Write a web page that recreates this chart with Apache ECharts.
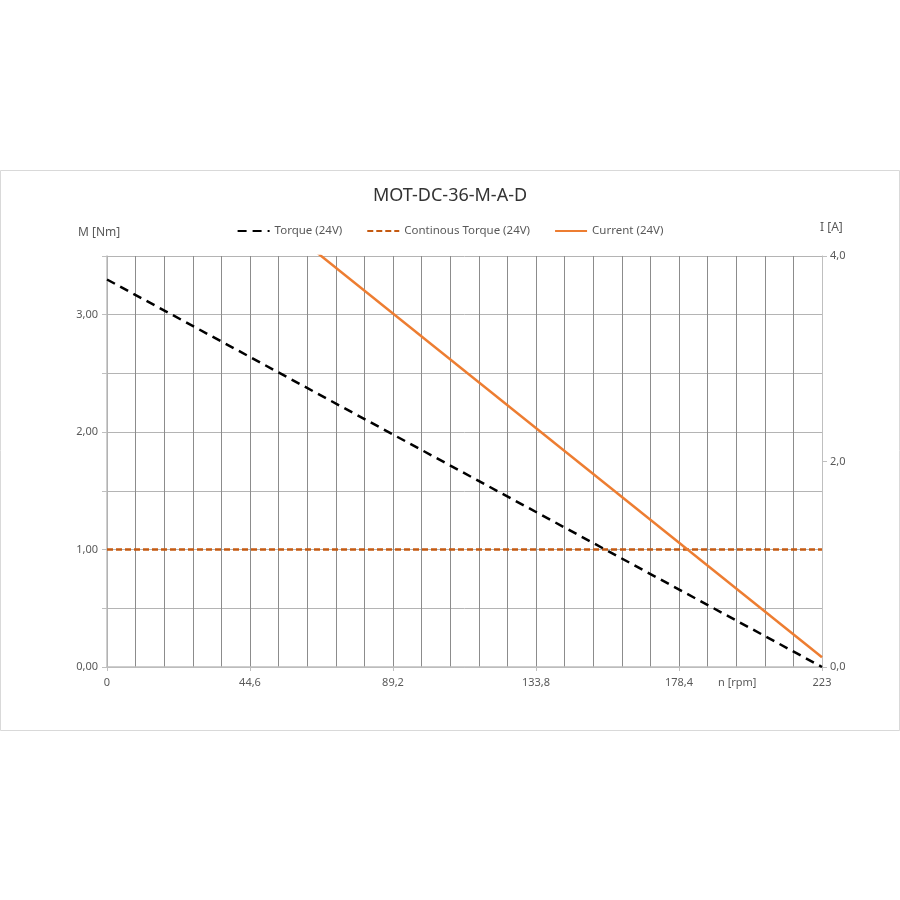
<!DOCTYPE html>
<html>
<head>
<meta charset="utf-8">
<script src="https://cdn.jsdelivr.net/npm/echarts@6/dist/echarts.min.js"></script>
<style>html,body{margin:0;padding:0;background:#fff;}#c{width:900px;height:900px;}</style>
</head>
<body>
<div id="c"></div>
<script>
const titleText = 'MOT-DC-36-M-A-D';
const seriesNames = ['Torque (24V)', 'Continous Torque (24V)', 'Current (24V)'];
const rpm = [0, 223];
const torque = [3.3, 0];
const contTorque = [1.0, 1.0];
const current = [5.67, 0.095];
const xTicks = [0, 44.6, 89.2, 133.8, 178.4, 223];
const leftTicks = [0, 1, 2, 3];
const rightTicks = [0, 2, 4];

const fmtComma = (v, d) => v.toFixed(d).replace('.', ',');
const font = 'Noto Sans';
const grey = '#595959';

const chart = echarts.init(document.getElementById('c'));
chart.setOption({
  animation: false,
  backgroundColor: '#fff',
  textStyle: { fontFamily: font },
  title: {
    text: titleText, left: 'center', top: 182,
    textStyle: { fontFamily: font, fontSize: 18, fontWeight: 'normal', color: '#333' }
  },
  legend: {
    top: 220, left: 'center', itemWidth: 32, itemHeight: 10, itemGap: 24,
    itemStyle: { opacity: 0 },
    textStyle: { fontFamily: font, fontSize: 11.5, color: grey },
    data: seriesNames
  },
  graphic: [
    { type: 'rect', shape: { x: 0.5, y: 170.5, width: 899, height: 560 }, style: { fill: 'none', stroke: '#d9d9d9', lineWidth: 1 }, silent: true, z: -1 },
    { type: 'text', left: 78, top: 227, style: { text: 'M [Nm]', font: '12px "Noto Sans"', fill: grey } },
    { type: 'text', left: 820, top: 222, style: { text: 'I [A]', font: '12px "Noto Sans"', fill: grey } },
    { type: 'text', left: 718, top: 677, style: { text: 'n [rpm]', font: '11px "Noto Sans"', fill: grey } }
  ],
  grid: { left: 107, right: 78, top: 256, bottom: 233 },
  xAxis: {
    type: 'value', min: 0, max: 223, interval: 44.6,
    axisLine: { show: true, lineStyle: { color: '#bfbfbf', width: 1.5 } },
    axisTick: { show: true, length: 4, lineStyle: { color: '#bfbfbf' } },
    axisLabel: {
      margin: 10, fontSize: 11, color: grey, fontFamily: font,
      formatter: v => {
        const t = xTicks.find(x => Math.abs(x - v) < 0.01);
        if (t === undefined) return '';
        return Number.isInteger(t) ? String(t) : fmtComma(t, 1);
      }
    },
    splitLine: { show: true, lineStyle: { color: '#8c8c8c', width: 1 } },
    minorTick: { show: false, splitNumber: 5 },
    minorSplitLine: { show: true, lineStyle: { color: '#8c8c8c', width: 1 } }
  },
  yAxis: [
    {
      type: 'value', min: 0, max: 3.5, interval: 0.5,
      axisLine: { show: true, lineStyle: { color: '#bfbfbf', width: 1.5 } },
      axisTick: { show: true, length: 5, lineStyle: { color: '#bfbfbf' } },
      axisLabel: {
        margin: 9, fontSize: 11, color: grey, fontFamily: font,
        formatter: v => leftTicks.some(t => Math.abs(t - v) < 1e-6) ? fmtComma(v, 2) : ''
      },
      splitLine: { show: true, lineStyle: { color: '#b4b4b4', width: 1 } }
    },
    {
      type: 'value', min: 0, max: 4, interval: 2, position: 'right',
      axisLine: { show: true, lineStyle: { color: '#bfbfbf', width: 1 } },
      axisTick: { show: true, length: 5, lineStyle: { color: '#bfbfbf' } },
      axisLabel: {
        margin: 8, fontSize: 11, color: grey, fontFamily: font,
        formatter: v => rightTicks.some(t => Math.abs(t - v) < 1e-6) ? fmtComma(v, 1) : ''
      },
      splitLine: { show: false }
    }
  ],
  series: [
    {
      name: seriesNames[0], type: 'line', yAxisIndex: 0, symbol: 'none', z: 3,
      data: rpm.map((x, i) => [x, torque[i]]),
      lineStyle: { color: '#000', width: 2.5, type: [9, 6] },
      itemStyle: { color: '#000' }
    },
    {
      name: seriesNames[1], type: 'line', yAxisIndex: 0, symbol: 'none', z: 2,
      data: rpm.map((x, i) => [x, contTorque[i]]),
      lineStyle: { color: '#c55a11', width: 2.5, type: [6, 3] },
      itemStyle: { color: '#c55a11' }
    },
    {
      name: seriesNames[2], type: 'line', yAxisIndex: 1, symbol: 'none', z: 4, clip: true,
      data: rpm.map((x, i) => [x, current[i]]),
      lineStyle: { color: '#ed7d31', width: 2.5 },
      itemStyle: { color: '#ed7d31' }
    }
  ]
});
</script>
</body>
</html>
